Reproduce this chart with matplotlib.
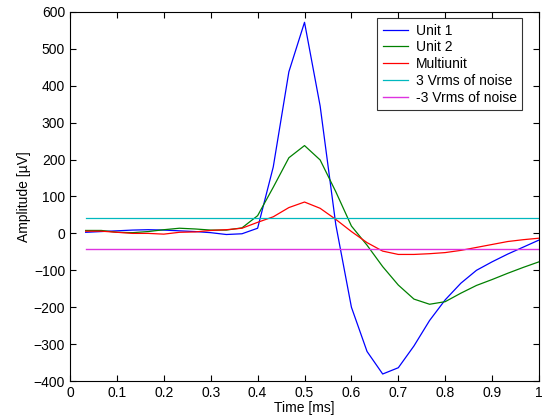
import numpy as np
import matplotlib
matplotlib.use("Agg")
import matplotlib.pyplot as plt

plt.rcParams['font.family'] = ['Liberation Sans', 'DejaVu Sans']

time_ms = [k / 30 for k in range(1, 31)]
unit1 = [3, 5, 7, 9, 10, 9, 7, 5, 2, -3, -1, 14, 180, 438, 572, 345, 24, -200,
         -320, -381, -364, -305, -236, -180, -135, -100, -77, -56, -37, -18]
unit2 = [8, 8, 3, 2, 5, 10, 14, 12, 9, 9, 15, 48, 125, 205, 238, 199, 113, 20,
         -32, -90, -140, -178, -192, -185, -162, -141, -125, -108, -92, -77]
multiunit = [6, 6, 3, 0, 0, -2, 3, 4, 8, 10, 14, 30, 45, 70, 85, 68, 38, 5,
             -25, -48, -57, -57, -55, -52, -46, -38, -30, -22, -17, -13]
noise_pos = 42
noise_neg = -42

fig = plt.figure(figsize=(5.47, 4.16), dpi=100)
ax = fig.add_axes([0.128, 0.0841, 0.8574, 0.8871])

lw = 0.9
ax.plot(time_ms, unit1, color=(0, 0, 1), lw=lw, label='Unit 1')
ax.plot(time_ms, unit2, color=(0, 0.5, 0), lw=lw, label='Unit 2')
ax.plot(time_ms, multiunit, color=(1, 0, 0), lw=lw, label='Multiunit')
ax.plot(time_ms, [noise_pos] * len(time_ms), color=(0, 0.72, 0.75), lw=lw,
        label='3 Vrms of noise')
ax.plot(time_ms, [noise_neg] * len(time_ms), color='#dd33e0', lw=1.0,
        label='-3 Vrms of noise')

ax.set_xlim(0, 1)
ax.set_ylim(-400, 600)
ax.set_xticks(np.arange(0, 1.01, 0.1))
ax.set_xticklabels(['0', '0.1', '0.2', '0.3', '0.4', '0.5', '0.6', '0.7', '0.8', '0.9', '1'])
ax.set_yticks(np.arange(-400, 601, 100))
ax.tick_params(direction='in', top=True, right=True, labelsize=10, length=4, width=0.8)
for s in ax.spines.values():
    s.set_linewidth(0.8)

ax.set_xlabel('Time [ms]', fontsize=10, labelpad=0.5)
ax.set_ylabel('Amplitude [\u00b5V]', fontsize=10, labelpad=2)

leg = ax.legend(loc='upper left', bbox_to_anchor=(377 / 547, 1 - 18 / 416),
                bbox_transform=fig.transFigure, borderaxespad=0,
                fontsize=10, frameon=True, fancybox=False,
                edgecolor='black', borderpad=0.4, labelspacing=0.2,
                handlelength=1.8, handletextpad=0.6)
leg.get_frame().set_linewidth(0.8)

fig.savefig('out.png', dpi=100)
